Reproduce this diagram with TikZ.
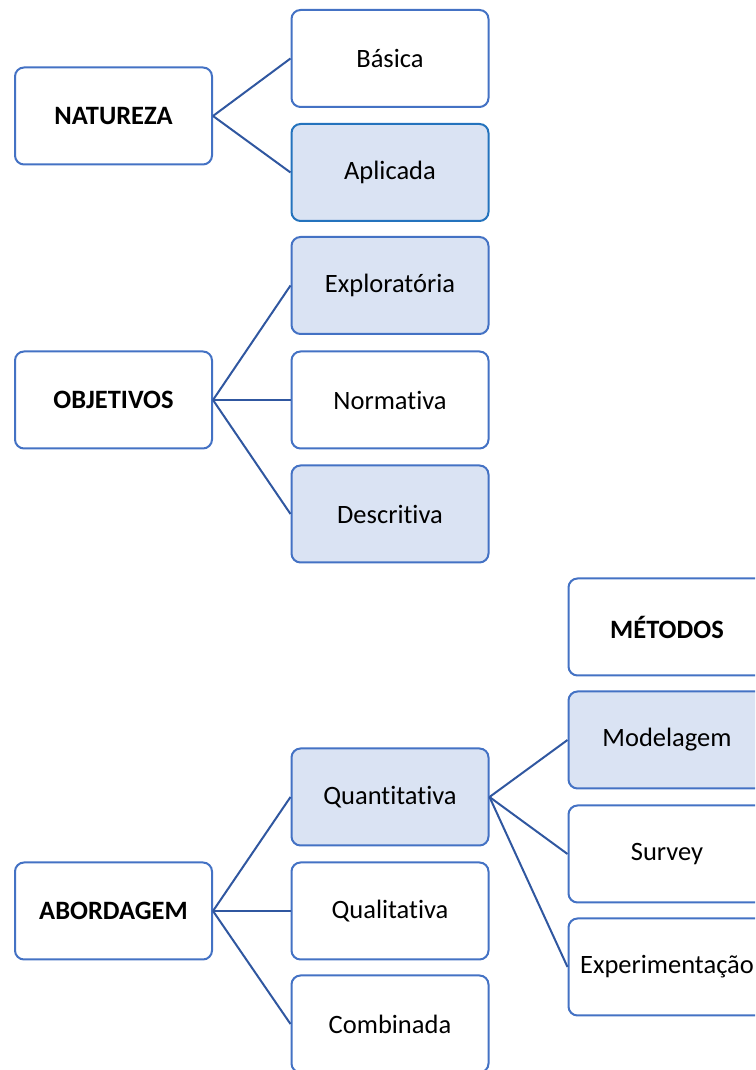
\documentclass[tikz,border=0pt]{standalone}
\usepackage{fontspec}
\setmainfont[Ligatures=NoCommon]{Carlito}
\definecolor{boxline}{HTML}{4472C4}
\definecolor{boxline2}{HTML}{2473BD}
\definecolor{conn}{HTML}{3057A0}
\definecolor{boxfill}{HTML}{DAE3F3}
\begin{document}
\begin{tikzpicture}[x=1pt,y=1pt,
  box/.style={draw=boxline, line width=2pt, rounded corners=9pt, minimum width=197pt, minimum height=97pt, inner sep=0pt, font=\fontsize{26.5}{30}\selectfont, fill=white},
  hl/.style={fill=boxfill},
  head/.style={font=\fontsize{26.5}{30}\selectfont\bfseries},
  link/.style={draw=conn, line width=2pt}]
\useasboundingbox (0,0) rectangle (755,1070);
\clip (0,0) rectangle (755,1070);
% Natureza
\node[box,head] (nat) at (113.5,954) {NATUREZA};
\node[box] (bas) at (390,1011.5) {Básica};
\node[box,hl,draw=boxline2] (apl) at (390,897.5) {Aplicada};
% Objetivos
\node[box,head] (obj) at (113.5,670) {OBJETIVOS};
\node[box,hl] (exp) at (390,784.5) {Exploratória};
\node[box] (nor) at (390,670) {Normativa};
\node[box,hl] (des) at (390,556) {Descritiva};
% Abordagem
\node[box,head] (abo) at (113.5,159) {ABORDAGEM};
\node[box,hl] (qnt) at (390,273) {Quantitativa};
\node[box] (qlt) at (390,159) {Qualitativa};
\node[box] (com) at (390,46) {Combinada};
% Metodos
\node[box,head] (met) at (667,443) {MÉTODOS};
\node[box,hl] (mod) at (667,330) {Modelagem};
\node[box] (sur) at (667,216) {Survey};
\node[box] (expm) at (667,103) {Experimentação};
% links
\foreach \a/\b in {nat/bas,nat/apl,obj/exp,obj/nor,obj/des,abo/qnt,abo/qlt,abo/com,qnt/mod,qnt/sur,qnt/expm}
  \draw[link] (\a.east) -- (\b.west);
\end{tikzpicture}
\end{document}
